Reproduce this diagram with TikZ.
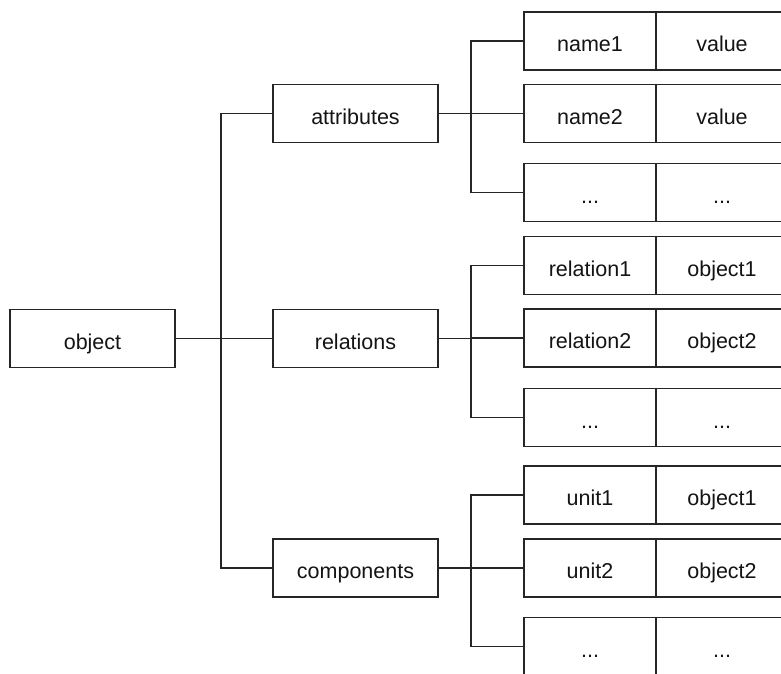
\documentclass[tikz,border=0pt]{standalone}
\usepackage{fontspec}
\setmainfont{Liberation Sans}
\newcommand{\rowdots}{...}
\begin{document}
\begin{tikzpicture}[x=1pt,y=-1pt,
  box/.style={draw=black!85, line width=1.5pt, rectangle, minimum height=58pt,
    inner sep=0pt, outer sep=0pt, text height=21pt, text depth=0pt,
    font=\fontsize{21.5}{25}\selectfont, text=black!92},
  midbox/.style={box, minimum width=165pt},
  cellbox/.style={box, minimum width=132pt, anchor=west},
  wire/.style={draw=black!85, line width=1.5pt}]
\useasboundingbox (0,0) rectangle (781,673);
\clip (0,0) rectangle (781,673);
\fill[white] (0,0) rectangle (781,673);

% root and the three groups
\node[midbox] (object) at (92.5,338.5) {object};
\node[midbox] (attributes) at (355.5,113.5) {attributes};
\node[midbox] (relations) at (355.5,338.5) {relations};
\node[midbox] (components) at (355.5,568) {components};

% key / value rows
\foreach \nm/\yy/\ka/\va in {
  a1/41/name1/value, a2/113.5/name2/value, a3/192.5/\rowdots/\rowdots,
  r1/265.5/relation1/object1, r2/338/relation2/object2, r3/417.5/\rowdots/\rowdots,
  c1/495/unit1/object1, c2/568/unit2/object2, c3/646.5/\rowdots/\rowdots}{
  \node[cellbox] (\nm k) at (524,\yy) {\ka};
  \node[cellbox] (\nm v) at (\nm k.east) {\va};
}

% trunk from the root to the groups
\coordinate (trunk) at (221,0);
\draw[wire] (object.east) -- (relations.west);
\draw[wire] (attributes.west) -- (attributes.west -| trunk)
  -- (components.west -| trunk) -- (components.west);

% branches from each group to its rows
\coordinate (branch) at (471,0);
\foreach \g/\p in {attributes/a, relations/r, components/c}{
  \draw[wire] (\g.east) -- (\g.east -| branch);
  \draw[wire] (\p1k.west) -- (\p1k.west -| branch)
    -- (\p3k.west -| branch) -- (\p3k.west);
  \draw[wire] (\p2k.west -| branch) -- (\p2k.west);
}
\end{tikzpicture}
\end{document}
